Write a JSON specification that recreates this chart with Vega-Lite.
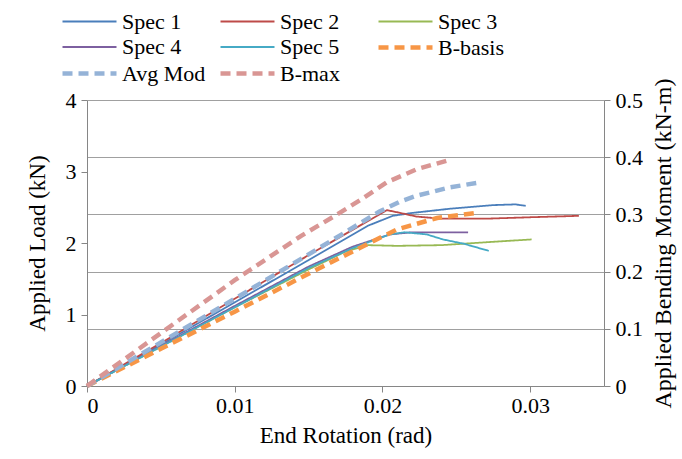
{
  "$schema": "https://vega.github.io/schema/vega-lite/v6.json",
  "width": 517,
  "height": 286,
  "autosize": "none",
  "padding": {"left": 87, "top": 100, "right": 78, "bottom": 73},
  "background": "white",
  "config": {
    "view": {"stroke": null},
    "font": "Liberation Serif",
    "axis": {
      "domainColor": "#868686",
      "tickColor": "#868686",
      "tickSize": 6,
      "labelColor": "black",
      "labelFont": "Liberation Serif",
      "labelFontSize": 22,
      "titleFont": "Liberation Serif",
      "titleFontSize": 23,
      "titleFontWeight": "normal",
      "titleColor": "black",
      "gridColor": "#a0a0a0",
      "gridWidth": 1
    },
    "legend": {
      "orient": "none",
      "legendX": -9,
      "legendY": -90,
      "columns": 3,
      "direction": "horizontal",
      "gridAlign": "all",
      "columnPadding": 5,
      "rowPadding": 3,
      "symbolType": "M-3,0H3",
      "symbolSize": 324,
      "labelFont": "Liberation Serif",
      "labelFontSize": 22,
      "labelColor": "black",
      "labelOffset": 21,
      "labelLimit": 200
    }
  },
  "data": {
    "values": [
      {"series": "Spec 1", "rot": 0, "load": 0},
      {"series": "Spec 1", "rot": 0.002, "load": 0.23},
      {"series": "Spec 1", "rot": 0.005, "load": 0.58},
      {"series": "Spec 1", "rot": 0.01, "load": 1.17},
      {"series": "Spec 1", "rot": 0.015, "load": 1.76},
      {"series": "Spec 1", "rot": 0.019, "load": 2.24},
      {"series": "Spec 1", "rot": 0.0207, "load": 2.38},
      {"series": "Spec 1", "rot": 0.022, "load": 2.42},
      {"series": "Spec 1", "rot": 0.0246, "load": 2.48},
      {"series": "Spec 1", "rot": 0.0275, "load": 2.53},
      {"series": "Spec 1", "rot": 0.029, "load": 2.54},
      {"series": "Spec 1", "rot": 0.0297, "load": 2.52},
      {"series": "Spec 2", "rot": 0, "load": 0},
      {"series": "Spec 2", "rot": 0.002, "load": 0.24},
      {"series": "Spec 2", "rot": 0.005, "load": 0.6},
      {"series": "Spec 2", "rot": 0.01, "load": 1.22},
      {"series": "Spec 2", "rot": 0.015, "load": 1.83},
      {"series": "Spec 2", "rot": 0.0203, "load": 2.46},
      {"series": "Spec 2", "rot": 0.021, "load": 2.43},
      {"series": "Spec 2", "rot": 0.0223, "load": 2.37},
      {"series": "Spec 2", "rot": 0.024, "load": 2.34},
      {"series": "Spec 2", "rot": 0.027, "load": 2.34},
      {"series": "Spec 2", "rot": 0.03, "load": 2.36},
      {"series": "Spec 2", "rot": 0.0333, "load": 2.38},
      {"series": "Spec 3", "rot": 0, "load": 0},
      {"series": "Spec 3", "rot": 0.005, "load": 0.55},
      {"series": "Spec 3", "rot": 0.01, "load": 1.1},
      {"series": "Spec 3", "rot": 0.015, "load": 1.63},
      {"series": "Spec 3", "rot": 0.0175, "load": 1.88},
      {"series": "Spec 3", "rot": 0.019, "load": 1.97},
      {"series": "Spec 3", "rot": 0.021, "load": 1.96},
      {"series": "Spec 3", "rot": 0.024, "load": 1.97},
      {"series": "Spec 3", "rot": 0.027, "load": 2.01},
      {"series": "Spec 3", "rot": 0.0301, "load": 2.05},
      {"series": "Spec 4", "rot": 0, "load": 0},
      {"series": "Spec 4", "rot": 0.005, "load": 0.56},
      {"series": "Spec 4", "rot": 0.01, "load": 1.12},
      {"series": "Spec 4", "rot": 0.015, "load": 1.67},
      {"series": "Spec 4", "rot": 0.018, "load": 1.95},
      {"series": "Spec 4", "rot": 0.0205, "load": 2.12},
      {"series": "Spec 4", "rot": 0.022, "load": 2.15},
      {"series": "Spec 4", "rot": 0.0258, "load": 2.15},
      {"series": "Spec 5", "rot": 0, "load": 0},
      {"series": "Spec 5", "rot": 0.005, "load": 0.55},
      {"series": "Spec 5", "rot": 0.01, "load": 1.1},
      {"series": "Spec 5", "rot": 0.015, "load": 1.65},
      {"series": "Spec 5", "rot": 0.018, "load": 1.93},
      {"series": "Spec 5", "rot": 0.0205, "load": 2.12},
      {"series": "Spec 5", "rot": 0.0215, "load": 2.15},
      {"series": "Spec 5", "rot": 0.023, "load": 2.12},
      {"series": "Spec 5", "rot": 0.0241, "load": 2.05},
      {"series": "Spec 5", "rot": 0.0255, "load": 1.99},
      {"series": "Spec 5", "rot": 0.0272, "load": 1.89},
      {"series": "B-basis", "rot": 0, "load": 0},
      {"series": "B-basis", "rot": 0.005, "load": 0.52},
      {"series": "B-basis", "rot": 0.01, "load": 1.04},
      {"series": "B-basis", "rot": 0.015, "load": 1.57},
      {"series": "B-basis", "rot": 0.0196, "load": 2.05},
      {"series": "B-basis", "rot": 0.021, "load": 2.19},
      {"series": "B-basis", "rot": 0.0237, "load": 2.35},
      {"series": "B-basis", "rot": 0.0263, "load": 2.42},
      {"series": "Avg Mod", "rot": 0, "load": 0},
      {"series": "Avg Mod", "rot": 0.005, "load": 0.61},
      {"series": "Avg Mod", "rot": 0.01, "load": 1.22},
      {"series": "Avg Mod", "rot": 0.015, "load": 1.84},
      {"series": "Avg Mod", "rot": 0.0198, "load": 2.44},
      {"series": "Avg Mod", "rot": 0.0212, "load": 2.58},
      {"series": "Avg Mod", "rot": 0.0223, "load": 2.66},
      {"series": "Avg Mod", "rot": 0.0246, "load": 2.78},
      {"series": "Avg Mod", "rot": 0.0264, "load": 2.84},
      {"series": "B-max", "rot": 0, "load": 0},
      {"series": "B-max", "rot": 0.005, "load": 0.74},
      {"series": "B-max", "rot": 0.01, "load": 1.48},
      {"series": "B-max", "rot": 0.0145, "load": 2.1},
      {"series": "B-max", "rot": 0.0167, "load": 2.37},
      {"series": "B-max", "rot": 0.0185, "load": 2.6},
      {"series": "B-max", "rot": 0.0203, "load": 2.85},
      {"series": "B-max", "rot": 0.0223, "load": 3.03},
      {"series": "B-max", "rot": 0.0245, "load": 3.16}
    ]
  },
  "layer": [
    {
      "mark": {"type": "line", "strokeOpacity": 0},
      "encoding": {
        "x": {"field": "rot", "type": "quantitative", "scale": {"domain": [0, 0.035], "nice": false},
              "axis": {"values": [0, 0.01, 0.02, 0.03], "format": ".2~f", "grid": false, "title": "End Rotation (rad)", "labelPadding": 3, "titlePadding": 8}},
        "y": {"field": "load", "type": "quantitative", "scale": {"domain": [0, 4], "nice": false},
              "axis": {"orient": "right", "values": [0, 0.8, 1.6, 2.4, 3.2, 4], "grid": true,
                       "labelExpr": "datum.value == 0 ? '0' : format(datum.value / 8, '.1f')",
                       "title": "Applied Bending Moment (kN-m)", "titleAngle": 270, "titleFontSize": 24,
                       "titleBaseline": "top", "labelPadding": 5, "titlePadding": 9}},
        "detail": {"field": "series"}
      }
    },
    {
      "mark": {"type": "line", "strokeCap": "butt"},
      "encoding": {
        "x": {"field": "rot", "type": "quantitative", "scale": {"domain": [0, 0.035], "nice": false},
              "axis": {"values": [0, 0.01, 0.02, 0.03], "format": ".2~f", "grid": false, "title": "End Rotation (rad)", "labelPadding": 3, "titlePadding": 8}},
        "y": {"field": "load", "type": "quantitative", "scale": {"domain": [0, 4], "nice": false},
              "axis": {"orient": "left", "values": [0, 1, 2, 3, 4], "grid": false, "title": "Applied Load (kN)", "labelPadding": 5, "titlePadding": 16}},
        "color": {"field": "series", "type": "ordinal", "title": null,
                  "sort": ["Spec 1", "Spec 2", "Spec 3", "Spec 4", "Spec 5", "B-basis", "Avg Mod", "B-max"],
                  "scale": {"domain": ["Spec 1", "Spec 2", "Spec 3", "Spec 4", "Spec 5", "B-basis", "Avg Mod", "B-max"],
                            "range": ["#4a7ebb", "#be4b48", "#98b954", "#7d60a0", "#46aac5", "#f79646", "#95b3d7", "#d99694"]}},
        "strokeDash": {"field": "series", "type": "ordinal", "title": null,
                       "sort": ["Spec 1", "Spec 2", "Spec 3", "Spec 4", "Spec 5", "B-basis", "Avg Mod", "B-max"],
                       "scale": {"domain": ["Spec 1", "Spec 2", "Spec 3", "Spec 4", "Spec 5", "B-basis", "Avg Mod", "B-max"],
                                 "range": [[1, 0], [1, 0], [1, 0], [1, 0], [1, 0], [10, 6], [10, 6], [10, 6]]}},
        "strokeWidth": {"field": "series", "type": "ordinal", "title": null,
                        "sort": ["Spec 1", "Spec 2", "Spec 3", "Spec 4", "Spec 5", "B-basis", "Avg Mod", "B-max"],
                        "scale": {"type": "ordinal", "domain": ["Spec 1", "Spec 2", "Spec 3", "Spec 4", "Spec 5", "B-basis", "Avg Mod", "B-max"],
                                  "range": [1.8, 1.8, 1.8, 1.8, 1.8, 4.5, 4.5, 4.5]}},
        "order": {"field": "rot", "type": "quantitative"}
      }
    }
  ],
  "resolve": {"scale": {"y": "independent"}}
}
